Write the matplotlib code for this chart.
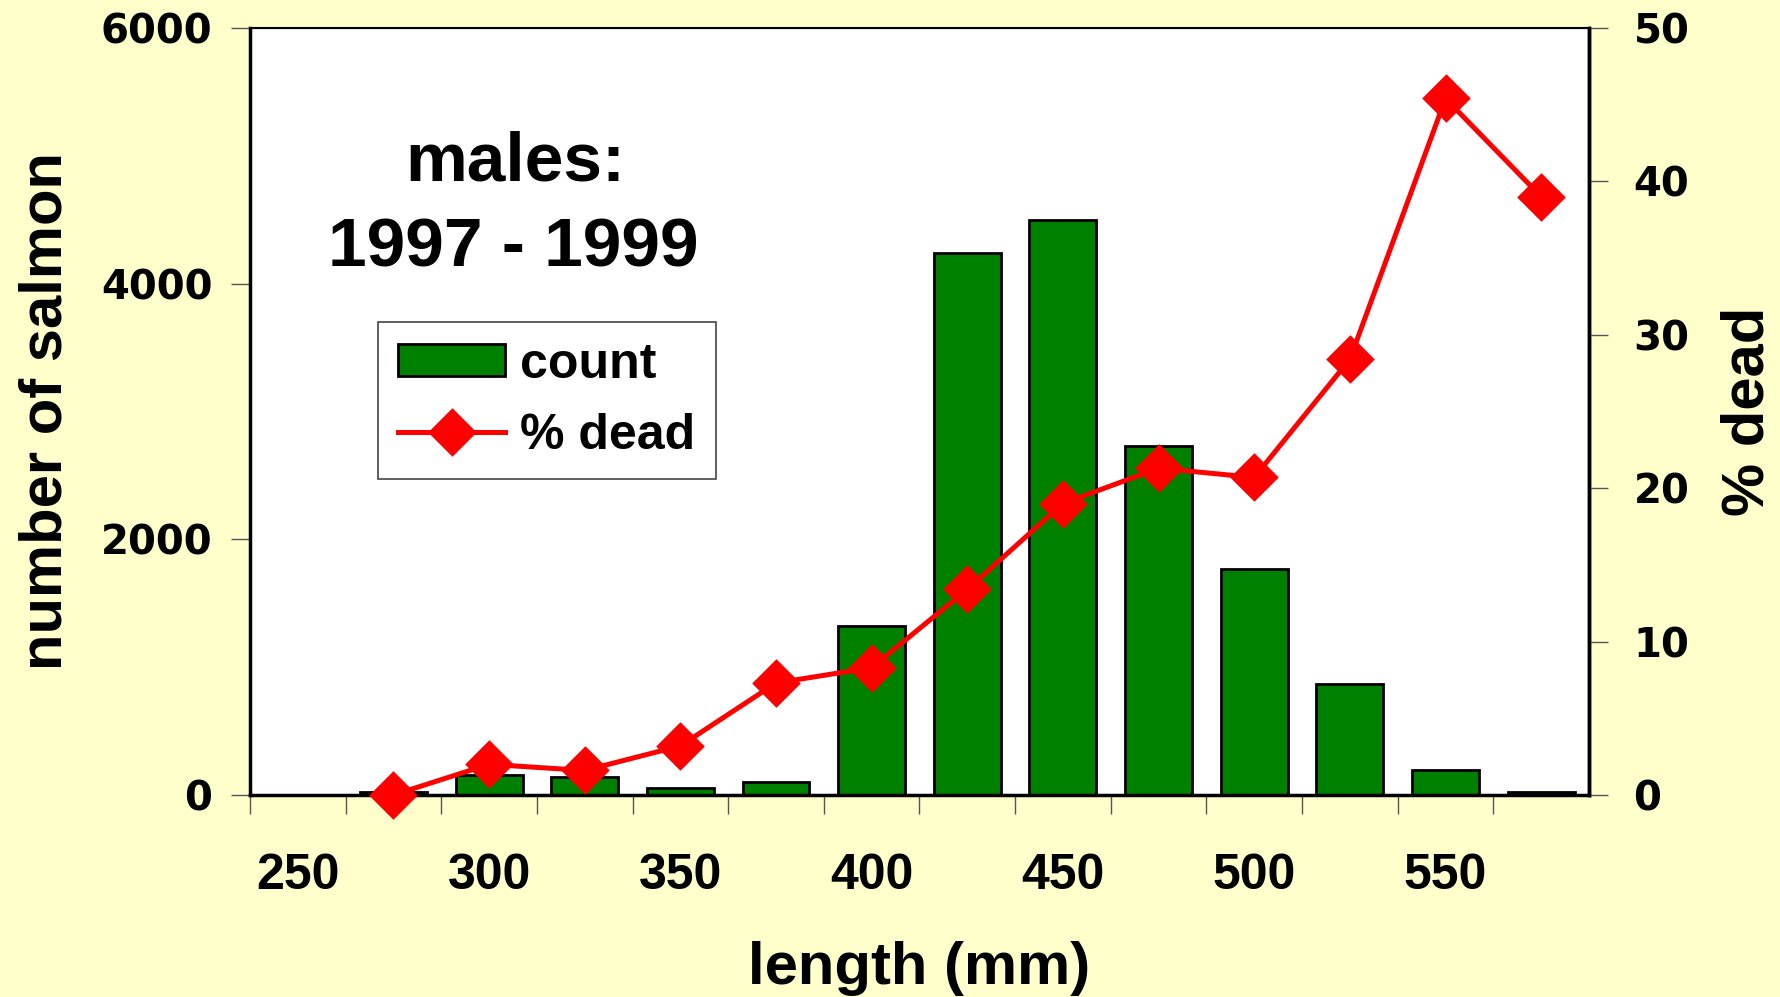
import numpy as np
import matplotlib
matplotlib.use('Agg')
from matplotlib import pyplot as plt
from matplotlib.lines import Line2D
from matplotlib.patches import Patch

plt.rcParams['font.family'] = ['Liberation Sans', 'DejaVu Sans']
plt.rcParams['font.weight'] = 'bold'

# data
lengths = [250, 275, 300, 325, 350, 375, 400, 425, 450, 475, 500, 525, 550, 575]
counts = [0, 25, 160, 142, 53, 98, 1324, 4240, 4498, 2729, 1769, 871, 196, 25]
pct_dead = [None, 0.0, 2.0, 1.6, 3.2, 7.3, 8.3, 13.4, 19.0, 21.3, 20.7, 28.4, 45.4, 39.0]
tick_labels = ['250', '', '300', '', '350', '', '400', '', '450', '', '500', '', '550', '']

bg = '#FFFFCC'
green = '#008000'
red = '#FF0000'

fig = plt.figure(figsize=(17.8, 9.97), dpi=100, facecolor=bg)
ax = fig.add_axes([0.1404, 0.2026, 0.7523, 0.7694])
ax.set_facecolor('white')

x = np.arange(len(lengths))
ax.bar(x, counts, width=0.7, color=green, edgecolor='black', linewidth=2, zorder=2)
ax.set_xlim(-0.5, len(lengths) - 0.5)
ax.set_ylim(0, 6000)
ax.set_yticks([0, 2000, 4000, 6000])

ax.set_xticks(x - 0.5, minor=False)
ax.set_xticklabels([])
ax.set_xticks(x, minor=True)
ax.set_xticklabels(tick_labels, minor=True, fontsize=36, fontweight='bold')
ax.tick_params(axis='x', which='major', direction='out', length=14, width=1, color='#555555')
ax.tick_params(axis='x', which='minor', length=0, pad=42)
ax.tick_params(axis='y', direction='out', length=14, width=1, color='#555555', pad=13)
for lab in ax.get_yticklabels():
    lab.set_fontfamily('DejaVu Sans')
    lab.set_fontsize(29)
    lab.set_fontweight('bold')

for side in ['left', 'bottom', 'right']:
    ax.spines[side].set_linewidth(2.5)
ax.spines['top'].set_linewidth(1.5)

ax.set_ylabel('number of salmon', fontsize=43, fontweight='bold', labelpad=20)
ax.set_xlabel('length (mm)', fontsize=43, fontweight='bold', labelpad=30)

ax2 = ax.twinx()
y2 = np.array([np.nan if v is None else v for v in pct_dead], dtype=float)
diamond = [(0, 1), (1, 0), (0, -1), (-1, 0), (0, 1)]
ax2.plot(x, y2, color=red, linewidth=3.6, marker=diamond, markersize=35,
         markeredgewidth=0, markerfacecolor=red, clip_on=False, zorder=3)
ax2.set_ylim(0, 50)
ax2.set_yticks([0, 10, 20, 30, 40, 50])
ax2.tick_params(axis='y', direction='out', length=14, width=1, color='#555555', pad=18)
for lab in ax2.get_yticklabels():
    lab.set_fontfamily('DejaVu Sans')
    lab.set_fontsize(29)
    lab.set_fontweight('bold')
ax2.spines['right'].set_linewidth(2.5)
ax2.set_ylabel('% dead', fontsize=43, fontweight='bold', labelpad=22)

ax.text(0.198, 0.825, 'males:', transform=ax.transAxes, ha='center', va='center',
        fontsize=50, fontweight='bold')
ax.text(0.197, 0.713, '1997 - 1999', transform=ax.transAxes, ha='center', va='center',
        fontsize=50, fontweight='bold')

handles = [Patch(facecolor=green, edgecolor='black', linewidth=2),
           Line2D([0], [0], color=red, linewidth=3.6, marker=diamond, markersize=35,
                  markeredgewidth=0)]
leg = ax2.legend(handles, ['count', '% dead'], loc='upper left',
                 bbox_to_anchor=(0.0956, 0.617), borderaxespad=0,
                 prop={'family': 'Liberation Sans', 'weight': 'bold', 'size': 36},
                 fancybox=False, framealpha=1, edgecolor='#444444',
                 handlelength=2.15, handleheight=0.6, handletextpad=0.3,
                 labelspacing=0.5, borderpad=0.4)
leg.get_frame().set_linewidth(1.2)

fig.savefig('out.png', dpi=100, facecolor=bg)
